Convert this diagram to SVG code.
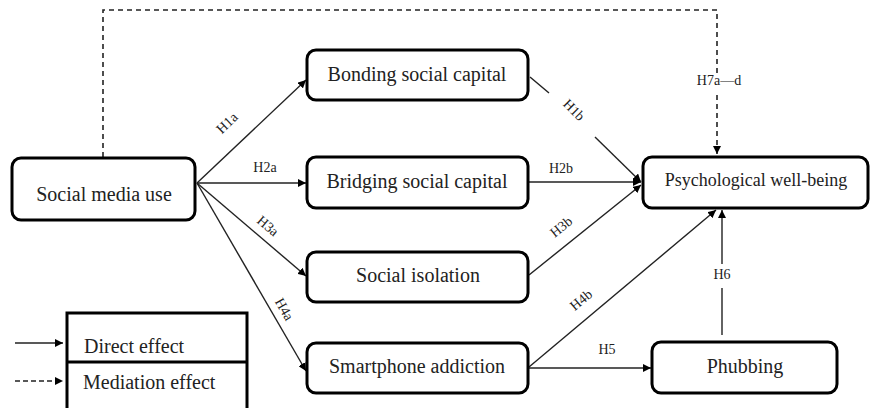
<svg xmlns="http://www.w3.org/2000/svg" width="873" height="408" viewBox="0 0 873 408">
<style>
.box{fill:#fff;stroke:#000;stroke-width:3}
.t{font-family:"Liberation Serif","Times New Roman",serif;font-size:20px;fill:#222;text-anchor:middle;dominant-baseline:middle}
.l{font-family:"Liberation Serif","Times New Roman",serif;font-size:14px;fill:#222;text-anchor:middle;dominant-baseline:middle}
.c{fill:none;stroke:#222;stroke-width:1.4}
.d{fill:none;stroke:#222;stroke-width:1.6;stroke-dasharray:5,4}
</style>
<defs>
<marker id="ah" viewBox="0 0 10 10" refX="10" refY="5" markerWidth="8" markerHeight="8" orient="auto" markerUnits="userSpaceOnUse">
<path d="M0,0 L10,5 L0,10 z" fill="#000"/>
</marker>
</defs>
<rect width="873" height="408" fill="#fff"/>
<g id="connectors">
<polyline class="d" points="103,157 103,10 717,10 717,154" marker-end="url(#ah)"/>
<rect x="692" y="73" width="54" height="18" fill="#fff"/>
<text class="l" x="719" y="82">H7a—d</text>
<line class="c" x1="197" y1="183" x2="306" y2="80" marker-end="url(#ah)"/>
<text class="l" x="228" y="124" transform="rotate(-44 228 124)">H1a</text>
<line class="c" x1="197" y1="183" x2="306" y2="183" marker-end="url(#ah)"/>
<text class="l" x="265" y="169">H2a</text>
<line class="c" x1="197" y1="183" x2="306" y2="276" marker-end="url(#ah)"/>
<text class="l" x="267" y="227" transform="rotate(40 267 227)">H3a</text>
<line class="c" x1="197" y1="183" x2="306" y2="371" marker-end="url(#ah)"/>
<text class="l" x="283" y="310" transform="rotate(60 283 310)">H4a</text>
<polyline class="c" points="530,77 549,93"/>
<line class="c" x1="595" y1="137" x2="641" y2="182" marker-end="url(#ah)"/>
<text class="l" x="573" y="111" transform="rotate(45 573 111)">H1b</text>
<line class="c" x1="529" y1="182" x2="641" y2="182" marker-end="url(#ah)"/>
<text class="l" x="561" y="170">H2b</text>
<line class="c" x1="529" y1="275" x2="641" y2="185" marker-end="url(#ah)"/>
<text class="l" x="562" y="228" transform="rotate(-39 562 228)">H3b</text>
<line class="c" x1="529" y1="367" x2="716" y2="210" marker-end="url(#ah)"/>
<text class="l" x="582" y="301" transform="rotate(-40 582 301)">H4b</text>
<line class="c" x1="529" y1="368" x2="651" y2="368" marker-end="url(#ah)"/>
<text class="l" x="607" y="351">H5</text>
<line class="c" x1="722" y1="335" x2="722" y2="210" marker-end="url(#ah)"/>
<rect x="710" y="264" width="24" height="24" fill="#fff"/>
<text class="l" x="722" y="276">H6</text>
</g>
<g id="social-media-use">
<rect class="box" x="12" y="158" width="183" height="62" rx="9"/>
<text class="t" x="104" y="196">Social media use</text>
</g>
<g id="bonding">
<rect class="box" x="307" y="50" width="221" height="50" rx="9"/>
<text class="t" x="417" y="76">Bonding social capital</text>
</g>
<g id="bridging">
<rect class="box" x="307" y="157" width="221" height="51" rx="9"/>
<text class="t" x="417" y="183">Bridging social capital</text>
</g>
<g id="isolation">
<rect class="box" x="307" y="252" width="221" height="50" rx="9"/>
<text class="t" x="418" y="277">Social isolation</text>
</g>
<g id="addiction">
<rect class="box" x="307" y="343" width="221" height="50" rx="9"/>
<text class="t" x="417" y="368">Smartphone addiction</text>
</g>
<g id="wellbeing">
<rect class="box" x="643" y="157" width="225" height="51" rx="9"/>
<text class="t" x="756" y="182" style="font-size:18px">Psychological well-being</text>
</g>
<g id="phubbing">
<rect class="box" x="652" y="342" width="185" height="51" rx="9"/>
<text class="t" x="745" y="368">Phubbing</text>
</g>
<g id="legend">
<rect x="67" y="313" width="180" height="110" fill="#fff" stroke="#000" stroke-width="3"/>
<line x1="67" y1="362" x2="247" y2="362" stroke="#000" stroke-width="3"/>
<text class="t" x="84" y="348" style="text-anchor:start">Direct effect</text>
<text class="t" x="83" y="384" style="text-anchor:start">Mediation effect</text>
<line class="c" x1="15" y1="343" x2="63" y2="343" marker-end="url(#ah)"/>
<line class="c" x1="15" y1="381" x2="63" y2="381" stroke-dasharray="5,3" marker-end="url(#ah)"/>
</g>
</svg>
